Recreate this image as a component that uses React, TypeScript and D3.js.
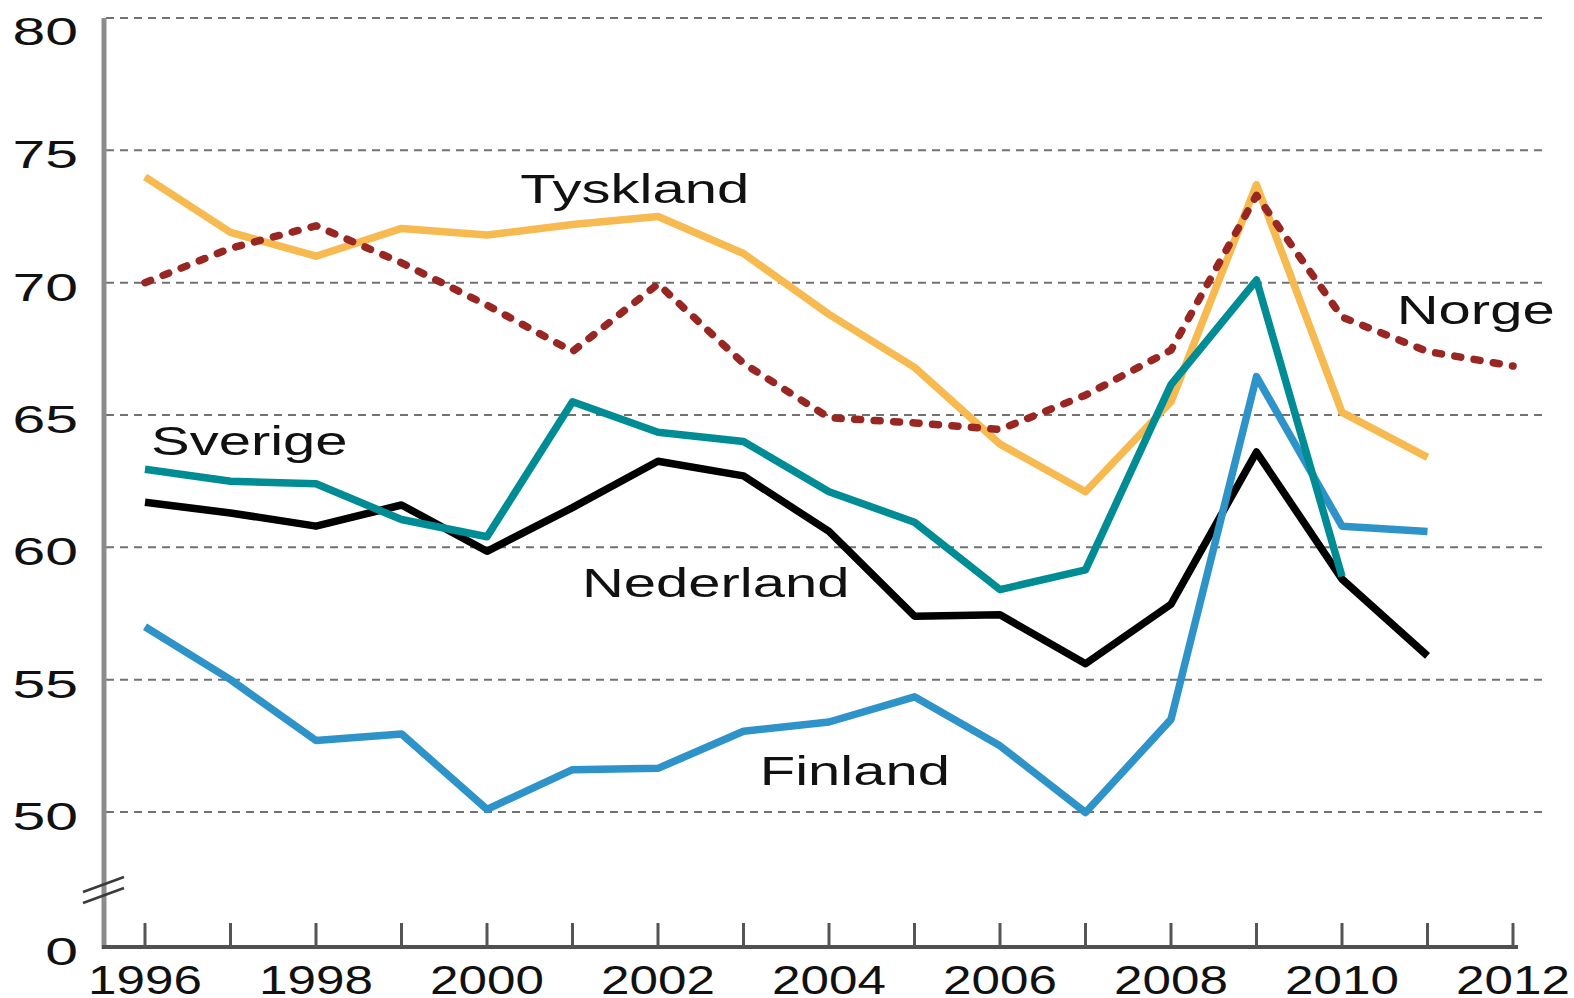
import * as React from "react";
import * as d3 from "d3";

// years on the x axis
const years = [1996, 1997, 1998, 1999, 2000, 2001, 2002, 2003, 2004, 2005, 2006, 2007, 2008, 2009, 2010, 2011, 2012];
const xLabelYears = [1996, 1998, 2000, 2002, 2004, 2006, 2008, 2010, 2012];
const yTicks = [0, 50, 55, 60, 65, 70, 75, 80];
const gridValues = [50, 55, 60, 65, 70, 75, 80];

// series values
const tyskland = [74.0, 71.9, 71.0, 72.05, 71.8, 72.2, 72.5, 71.1, 68.8, 66.8, 63.9, 62.1, 65.5, 73.7, 65.1, 63.4];
const norge = [70.0, 71.3, 72.15, 70.75, 69.15, 67.4, 69.95, 66.95, 64.9, 64.7, 64.45, 65.75, 67.45, 73.3, 68.7, 67.4, 66.85];
const sverige = [62.95, 62.5, 62.4, 61.05, 60.4, 65.5, 64.35, 64.0, 62.1, 60.95, 58.4, 59.15, 66.15, 70.1, 58.9];
const nederland = [61.7, 61.3, 60.8, 61.6, 59.85, 61.5, 63.25, 62.7, 60.6, 57.4, 57.45, 55.6, 57.85, 63.6, 58.8, 55.9];
const finland = [57.0, 55.0, 52.7, 52.95, 50.1, 51.6, 51.65, 53.05, 53.4, 54.35, 52.5, 49.8, 53.5, 66.45, 60.8, 60.6];

// draw order: bottom first
const seriesList = [
  { name: "Nederland", values: nederland, color: "#000000", dotted: false },
  { name: "Finland", values: finland, color: "#2E93C9", dotted: false },
  { name: "Tyskland", values: tyskland, color: "#F7BA50", dotted: false },
  { name: "Sverige", values: sverige, color: "#008C95", dotted: false },
  { name: "Norge", values: norge, color: "#982622", dotted: true },
];

// label anchors in data units (left edge, baseline)
const labelSpots = [
  { text: "Tyskland", year: 2000.39, value: 73.0 },
  { text: "Norge", year: 2010.64, value: 68.44 },
  { text: "Sverige", year: 1996.07, value: 63.49 },
  { text: "Nederland", year: 2001.11, value: 58.12 },
  { text: "Finland", year: 2003.19, value: 51.02 },
];

function drawChart(svgRef) {
  const svg = d3.select(svgRef.current);
  svg.selectAll("*").remove();

  const width = 1574;
  const height = 998;
  const font = "'Liberation Sans', Arial, sans-serif";

  const xScale = d3.scaleLinear().domain([1996, 2012]).range([145, 1513]);
  // broken axis: 0 at the bottom, then 50..80
  const yScale = d3.scaleLinear().domain([0, 50, 80]).range([947, 812, 18]);

  const axisX = 104;
  const baseY = yScale(0);

  svg.attr("width", width).attr("height", height);

  // gridlines
  svg
    .append("g")
    .selectAll("line")
    .data(gridValues)
    .enter()
    .append("line")
    .attr("x1", axisX + 2)
    .attr("x2", 1548)
    .attr("y1", (d) => yScale(d))
    .attr("y2", (d) => yScale(d))
    .style("stroke", "#727272")
    .style("stroke-width", 2)
    .style("stroke-dasharray", "8 6");

  // y axis line
  svg
    .append("line")
    .attr("x1", axisX)
    .attr("x2", axisX)
    .attr("y1", yScale(80))
    .attr("y2", baseY + 2)
    .style("stroke", "#8c8c8c")
    .style("stroke-width", 5);

  // x axis line + ticks
  svg
    .append("line")
    .attr("x1", axisX - 2)
    .attr("x2", xScale(2012) + 5)
    .attr("y1", baseY)
    .attr("y2", baseY)
    .style("stroke", "#505050")
    .style("stroke-width", 4);

  svg
    .append("g")
    .selectAll("line")
    .data(years)
    .enter()
    .append("line")
    .attr("x1", (d) => xScale(d))
    .attr("x2", (d) => xScale(d))
    .attr("y1", baseY)
    .attr("y2", baseY - 24)
    .style("stroke", "#555")
    .style("stroke-width", 3);

  // axis break marks
  const brk = svg.append("g").style("stroke", "#3a3a3a").style("stroke-width", 2.5);
  brk.append("line").attr("x1", axisX - 21).attr("y1", 892).attr("x2", axisX + 20).attr("y2", 877);
  brk.append("line").attr("x1", axisX - 21).attr("y1", 903).attr("x2", axisX + 20).attr("y2", 888);

  // y tick labels (top one kept inside the frame)
  svg
    .append("g")
    .selectAll("text")
    .data(yTicks)
    .enter()
    .append("text")
    .attr("transform", (d) => `translate(78, ${Math.max(yScale(d) + 18, 45)}) scale(1.55, 1)`)
    .attr("text-anchor", "end")
    .attr("font-family", font)
    .attr("font-size", 38)
    .style("fill", "#111")
    .text((d) => d);

  // x tick labels
  svg
    .append("g")
    .selectAll("text")
    .data(xLabelYears)
    .enter()
    .append("text")
    .attr("transform", (d) => `translate(${xScale(d)}, 994) scale(1.28, 1)`)
    .attr("text-anchor", "middle")
    .attr("font-family", font)
    .attr("font-size", 40)
    .style("fill", "#111")
    .text((d) => d);

  const line = d3
    .line()
    .x((d, i) => xScale(years[i]))
    .y((d) => yScale(d));

  svg
    .append("g")
    .selectAll("path")
    .data(seriesList)
    .enter()
    .append("path")
    .attr("d", (d) => line(d.values))
    .style("fill", "none")
    .style("stroke", (d) => d.color)
    .style("stroke-width", (d) => (d.dotted ? 7.5 : 7.5))
    .style("stroke-linejoin", "round")
    .style("stroke-linecap", (d) => (d.dotted ? "round" : "butt"))
    .style("stroke-dasharray", (d) => (d.dotted ? "6 13.5" : null));

  // series labels
  svg
    .append("g")
    .selectAll("text")
    .data(labelSpots)
    .enter()
    .append("text")
    .attr("transform", (d) => `translate(${xScale(d.year)}, ${yScale(d.value)}) scale(1.45, 1)`)
    .attr("font-family", font)
    .attr("font-size", 40)
    .style("fill", "#111")
    .text((d) => d.text);
}

const App = () => {
  const svg = React.useRef(null);
  React.useEffect(() => {
    drawChart(svg);
  }, [svg]);

  return (
    <svg
      ref={svg}
      style={{ position: "absolute", left: 0, top: 0, background: "#fff" }}
    />
  );
};

export default App;
